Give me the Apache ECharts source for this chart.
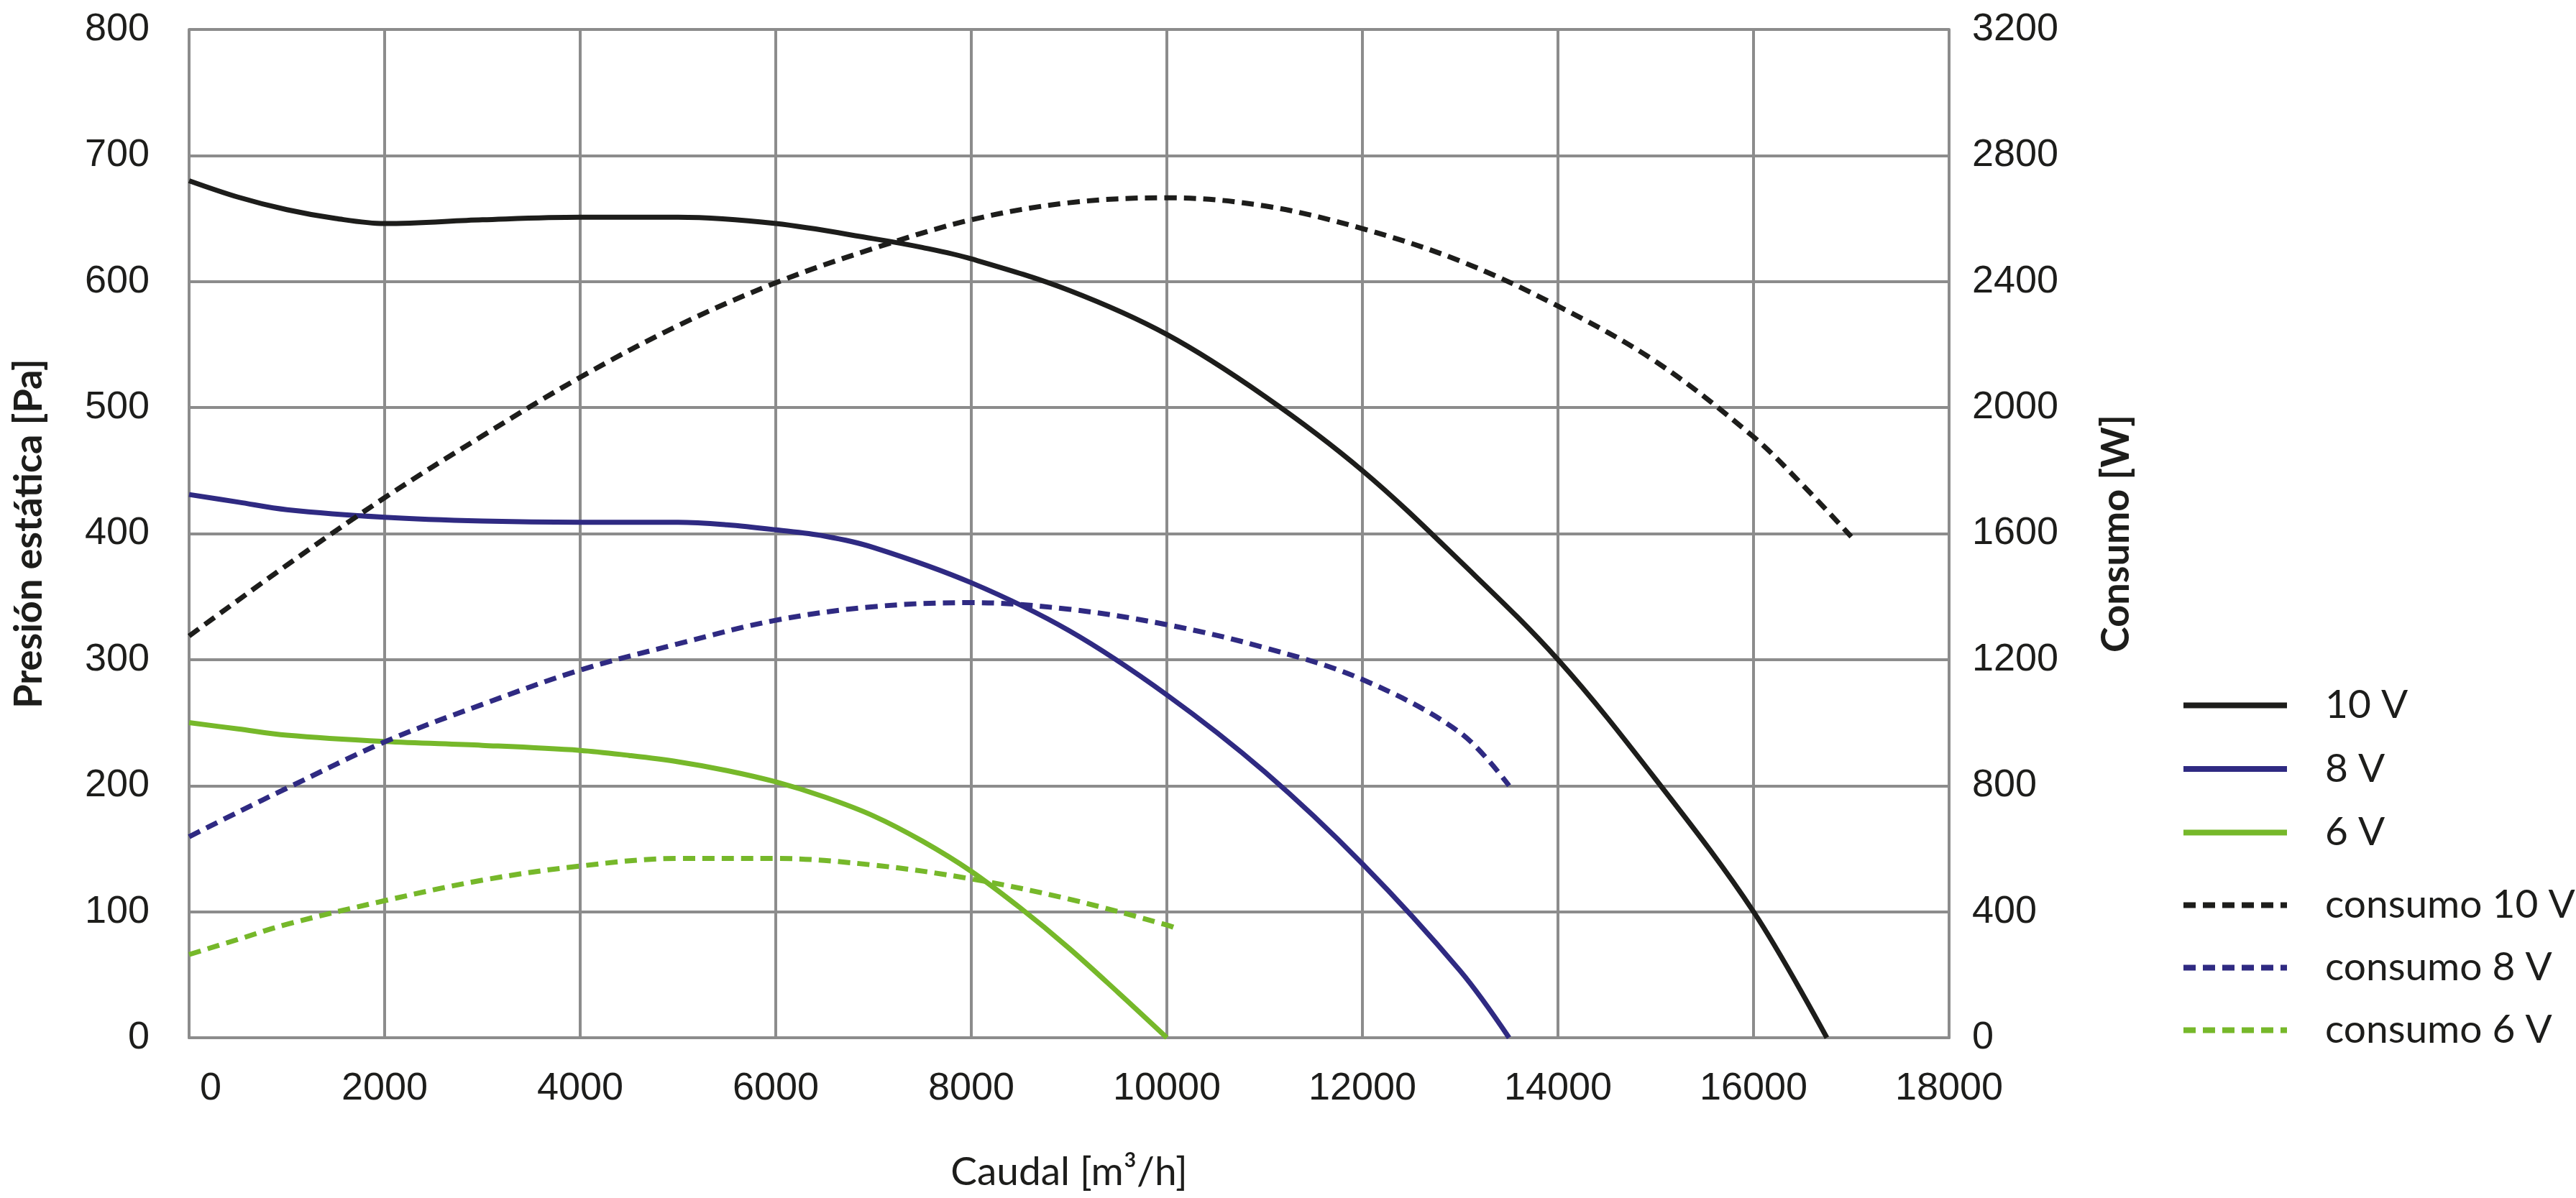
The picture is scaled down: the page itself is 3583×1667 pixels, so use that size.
<!DOCTYPE html>
<html>
<head>
<meta charset="utf-8">
<script src="https://cdn.jsdelivr.net/npm/echarts@6/dist/echarts.min.js"></script>
<style>
html,body{margin:0;padding:0;background:#fff;}
#c{width:3583px;height:1667px;}
</style>
</head>
<body>
<div id="c"></div>
<script>
// ---- data ----
const xTicks = [0, 2000, 4000, 6000, 8000, 10000, 12000, 14000, 16000, 18000];
const leftTicks = [0, 100, 200, 300, 400, 500, 600, 700, 800];
const rightTicks = [0, 400, 800, 1200, 1600, 2000, 2400, 2800, 3200];

const flow10 = [0, 500, 1000, 1500, 2000, 3000, 4000, 5000, 6000, 7000, 7500, 8000, 9000, 10000, 11000, 12000, 13000, 14000, 15000, 16000, 16750];
const pres10 = [680, 667, 657, 650, 646, 649, 651, 651, 646, 634, 627, 618, 593, 558, 509, 450, 378, 300, 205, 100, 0];

const flow8 = [0, 500, 1000, 2000, 3000, 4000, 5000, 5500, 6000, 6500, 7000, 8000, 9000, 10000, 11000, 12000, 13000, 13500];
const pres8 = [431, 425, 419, 413, 410, 409, 409, 407, 403, 398, 389, 361, 323, 272, 211, 138, 53, 0];

const flow6 = [0, 500, 1000, 2000, 3000, 4000, 4500, 5000, 5500, 6000, 6500, 7000, 7500, 8000, 8500, 9000, 9500, 10000];
const pres6 = [250, 245, 240, 235, 232, 228, 224, 219, 212, 203, 191, 176, 156, 132, 103, 71, 36, 0];

const flowCons10 = [0, 1000, 2000, 3000, 4000, 5000, 6000, 7000, 8000, 9000, 10000, 11000, 12000, 13000, 14000, 15000, 16000, 16500, 17000];
const cons10 = [1275, 1500, 1714, 1910, 2096, 2260, 2396, 2505, 2596, 2650, 2666, 2640, 2568, 2465, 2322, 2146, 1907, 1755, 1590];

const flowCons8 = [0, 500, 1000, 2000, 3000, 4000, 5000, 6000, 7000, 8000, 9000, 10000, 11000, 12000, 13000, 13500];
const cons8 = [638, 716, 792, 939, 1058, 1167, 1250, 1325, 1368, 1381, 1360, 1311, 1238, 1137, 968, 800];

const flowCons6 = [0, 500, 1000, 2000, 3000, 4000, 5000, 6000, 7000, 8000, 9000, 10000, 10100];
const cons6 = [264, 312, 360, 435, 500, 545, 569, 569, 548, 504, 440, 358, 347];

const names = ['10 V', '8 V', '6 V', 'consumo 10 V', 'consumo 8 V', 'consumo 6 V'];
const colors = ['#1d1d1b', '#2f2a82', '#76b82a'];

// ---- chart ----
const pair = (xs, ys) => xs.map((x, i) => [x, ys[i]]);
const GRID = '#8c8c8c';
const TXT = '#1d1d1b';
const tickFont = 'Liberation Sans';
const titleFont = 'Lato';

function solid(name, color, xs, ys) {
  return { name, type: 'line', yAxisIndex: 0, data: pair(xs, ys), smooth: 0.35, symbol: 'none',
    lineStyle: { color, width: 7, type: 'solid', cap: 'butt' }, itemStyle: { color } };
}
function dashed(name, color, xs, ys) {
  return { name, type: 'line', yAxisIndex: 1, data: pair(xs, ys), smooth: 0.35, symbol: 'none',
    lineStyle: { color, width: 7, type: [17, 10], cap: 'butt' }, itemStyle: { color } };
}

const legendBase = {
  orient: 'vertical', left: 3028, itemWidth: 144, itemHeight: 53,
  itemStyle: { opacity: 0 },
  lineStyle: { width: 8 },
  textStyle: { fontFamily: titleFont, fontSize: 55, color: TXT, padding: [0, 0, 0, 48] }
};

const chart = echarts.init(document.getElementById('c'), null, { renderer: 'canvas' });
chart.setOption({
  animation: false,
  backgroundColor: '#ffffff',
  grid: { left: 263, right: 872, top: 41, bottom: 223 },
  xAxis: {
    type: 'value', min: xTicks[0], max: xTicks[xTicks.length - 1], interval: xTicks[1] - xTicks[0],
    axisLine: { show: true, lineStyle: { color: GRID, width: 4 } },
    axisTick: { show: false },
    splitLine: { show: true, lineStyle: { color: GRID, width: 4 } },
    axisLabel: {
      fontFamily: tickFont, fontSize: 54, color: TXT, margin: 44,
      formatter: v => v === 0 ? '{z|0}' : String(v),
      rich: { z: { fontFamily: tickFont, fontSize: 54, color: TXT, padding: [0, 0, 0, 60] } }
    },
    name: 'Caudal [m³/h]', nameLocation: 'middle', nameGap: 160,
    nameTextStyle: { fontFamily: titleFont, fontSize: 55, color: TXT }
  },
  yAxis: [
    {
      type: 'value', min: leftTicks[0], max: leftTicks[leftTicks.length - 1], interval: leftTicks[1] - leftTicks[0],
      position: 'left',
      axisLine: { show: true, lineStyle: { color: GRID, width: 4 } },
      axisTick: { show: false },
      splitLine: { show: true, lineStyle: { color: GRID, width: 4 } },
      axisLabel: { fontFamily: tickFont, fontSize: 54, color: TXT, margin: 55, padding: [0, 0, 28, 0],
        formatter: v => String(v) },
      name: 'Presión estática [Pa]', nameLocation: 'middle', nameGap: 195,
      nameTextStyle: { fontFamily: titleFont, fontWeight: 'bold', fontSize: 54, color: TXT }
    },
    {
      type: 'value', min: rightTicks[0], max: rightTicks[rightTicks.length - 1], interval: rightTicks[1] - rightTicks[0],
      position: 'right',
      axisLine: { show: true, lineStyle: { color: GRID, width: 4 } },
      axisTick: { show: false },
      splitLine: { show: false },
      axisLabel: { fontFamily: tickFont, fontSize: 54, color: TXT, margin: 32, padding: [0, 0, 28, 0],
        formatter: v => String(v) },
      name: 'Consumo [W]', nameLocation: 'middle', nameGap: 206,
      nameTextStyle: { fontFamily: titleFont, fontWeight: 'bold', fontSize: 54, color: TXT }
    }
  ],
  legend: [
    Object.assign({}, legendBase, { data: names.slice(0, 3), top: 949, itemGap: 33.5 }),
    Object.assign({}, legendBase, { data: names.slice(3), top: 1227, itemGap: 32 })
  ],
  series: [
    solid(names[0], colors[0], flow10, pres10),
    solid(names[1], colors[1], flow8, pres8),
    solid(names[2], colors[2], flow6, pres6),
    dashed(names[3], colors[0], flowCons10, cons10),
    dashed(names[4], colors[1], flowCons8, cons8),
    dashed(names[5], colors[2], flowCons6, cons6)
  ]
});
</script>
</body>
</html>
